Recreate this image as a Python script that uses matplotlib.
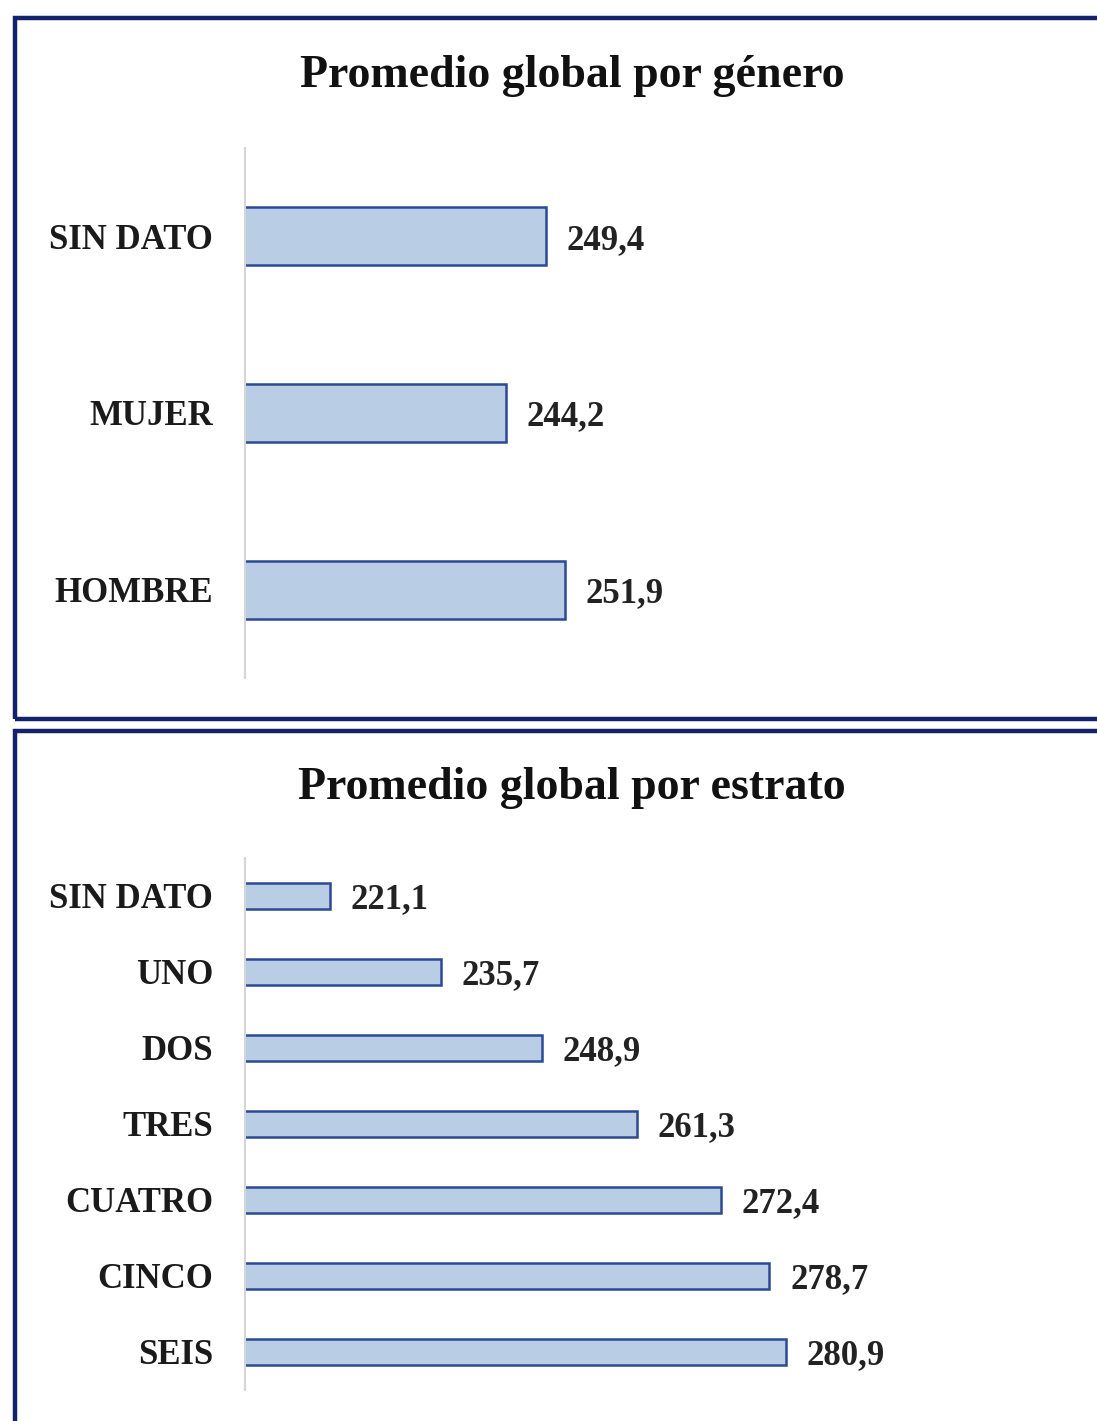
import matplotlib.pyplot as plt
from matplotlib.patches import Rectangle

# datos
genero = ["HOMBRE", "MUJER", "SIN DATO"]
genero_vals = [251.9, 244.2, 249.4]

estrato = ["SEIS", "CINCO", "CUATRO", "TRES", "DOS", "UNO", "SIN DATO"]
estrato_vals = [280.9, 278.7, 272.4, 261.3, 248.9, 235.7, 221.1]

W, H = 1097, 1421
fig = plt.figure(figsize=(W / 100, H / 100), dpi=100)
plt.rcParams["font.family"] = ["Liberation Serif", "DejaVu Serif"]

face = "#b9cde5"
edge = "#2c4a94"
navy = "#13236b"

# marcos de cada panel
fig.patches.append(Rectangle((15 / W, 1 - 719 / H), 1.2, (719 - 18) / H,
                             transform=fig.transFigure, fill=False,
                             edgecolor=navy, linewidth=3.2, zorder=0))
fig.patches.append(Rectangle((15 / W, -0.1), 1.2, 0.1 + (1421 - 731) / H,
                             transform=fig.transFigure, fill=False,
                             edgecolor=navy, linewidth=3.2, zorder=0))


def panel(top, bottom, cats, vals, title, title_y):
    x0, x1 = 245, 932
    ax = fig.add_axes([x0 / W, 1 - bottom / H, (x1 - x0) / W, (bottom - top) / H])
    y = range(len(cats))
    ax.barh(y, vals, left=0, height=0.33, color=face, edgecolor=edge, linewidth=1.8)
    ax.set_xlim(210, 300)
    ax.set_ylim(-0.5, len(cats) - 0.5)
    ax.set_yticks(list(y))
    ax.set_yticklabels(cats, fontsize=25, fontweight="bold", color="#1a1a1a")
    ax.tick_params(axis="y", length=0, pad=23)
    ax.set_xticks([])
    for s in ["top", "right", "bottom"]:
        ax.spines[s].set_visible(False)
    ax.spines["left"].set_color("#d6d6d6")
    ax.spines["left"].set_linewidth(1.5)
    ax.patch.set_alpha(0)
    for yi, v in zip(y, vals):
        ax.text(v + 2.7, yi, f"{v:.1f}".replace(".", ","), va="center_baseline", ha="left",
                fontsize=25, fontweight="bold", color="#222222")
    fig.text(572 / W, 1 - title_y / H, title, ha="center", va="center",
             fontsize=33, fontweight="bold", color="#111111")
    return ax


panel(148, 678, genero, genero_vals, "Promedio global por género", 76)
panel(858, 1390, estrato, estrato_vals, "Promedio global por estrato", 788)

fig.savefig("out.png", dpi=100)
